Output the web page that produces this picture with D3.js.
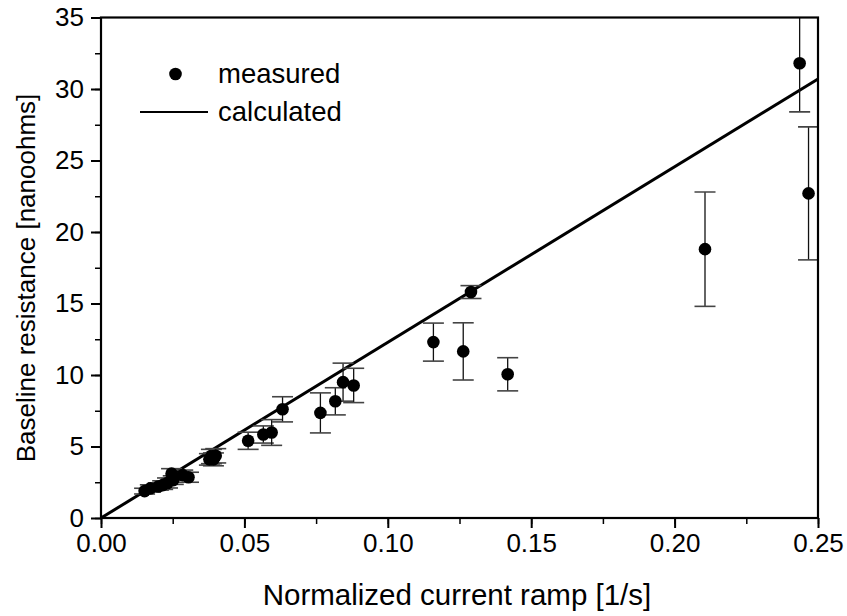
<!DOCTYPE html>
<html>
<head>
<meta charset="utf-8">
<script src="https://cdn.jsdelivr.net/npm/d3@7"></script>
<style>
  body { margin: 0; background: #fff; }
  text { font-family: "Liberation Sans", Arial, sans-serif; fill: #000; }
</style>
</head>
<body>
<script>
// measured points (x = normalized ramp, y = resistance, err = half error bar)
var rampX = [0.0152, 0.0172, 0.0200, 0.0215, 0.0232, 0.0246, 0.0252, 0.0285, 0.0305,
  0.0378, 0.0385, 0.0392, 0.0400, 0.0513, 0.0566, 0.0595, 0.0633, 0.0765, 0.0817,
  0.0844, 0.0881, 0.1159, 0.1263, 0.1290, 0.1418, 0.2106, 0.2436, 0.2467];
var resistY = [1.88, 2.07, 2.20, 2.30, 2.45, 3.10, 2.65, 3.00, 2.85,
  4.10, 4.30, 4.10, 4.35, 5.40, 5.84, 5.98, 7.60, 7.35, 8.16,
  9.50, 9.27, 12.30, 11.65, 15.80, 10.05, 18.80, 31.80, 22.70];
var resistErr = [0.20, 0.25, 0.25, 0.30, 0.35, 0.35, 0.30, 0.35, 0.35,
  0.40, 0.50, 0.45, 0.50, 0.60, 0.60, 0.90, 0.88, 1.40, 0.95,
  1.33, 1.20, 1.33, 2.00, 0.45, 1.16, 4.00, 3.40, 4.65];

// calculated curve
var calcX = [0, 0.25];
var calcY = [0, 30.7];

var xTicks = [0, 0.05, 0.10, 0.15, 0.20, 0.25];
var yTicks = [0, 5, 10, 15, 20, 25, 30, 35];

function main() {
    var width = 847, height = 616;
    var left = 101, right = 818, top = 17.5, bottom = 518;

    var svg = d3.select("body").append("svg")
        .attr("width", width)
        .attr("height", height);

    var x = d3.scaleLinear().domain([0, 0.25]).range([left, right]);
    var y = d3.scaleLinear().domain([0, 35]).range([bottom, top]);

    svg.append("clipPath").attr("id", "plotclip")
        .append("rect")
        .attr("x", left).attr("y", top)
        .attr("width", right - left).attr("height", bottom - top);

    // minor ticks
    var xMinor = d3.range(0, 0.25 + 1e-9, 0.025);
    var yMinor = d3.range(0, 35 + 1e-9, 2.5);

    var xAxis = svg.append("g")
        .attr("transform", "translate(0," + bottom + ")")
        .call(d3.axisBottom(x).tickValues(xMinor).tickSize(6).tickFormat(""));
    xAxis.select(".domain").remove();
    xAxis.selectAll("line").attr("stroke-width", 1.5);

    var xMajor = svg.append("g")
        .attr("transform", "translate(0," + bottom + ")")
        .call(d3.axisBottom(x).tickValues(xTicks).tickSize(10).tickPadding(6)
            .tickFormat(d3.format(".2f")));
    xMajor.select(".domain").remove();
    xMajor.selectAll("line").attr("stroke-width", 2);
    xMajor.selectAll("text").attr("font-size", 26).attr("font-family", "Liberation Sans, Arial, sans-serif");

    var yAxis = svg.append("g")
        .attr("transform", "translate(" + left + ",0)")
        .call(d3.axisLeft(y).tickValues(yMinor).tickSize(6).tickFormat(""));
    yAxis.select(".domain").remove();
    yAxis.selectAll("line").attr("stroke-width", 1.5);

    var yMajor = svg.append("g")
        .attr("transform", "translate(" + left + ",0)")
        .call(d3.axisLeft(y).tickValues(yTicks).tickSize(10).tickPadding(7)
            .tickFormat(d3.format("d")));
    yMajor.select(".domain").remove();
    yMajor.selectAll("line").attr("stroke-width", 2);
    yMajor.selectAll("text").attr("font-size", 26).attr("font-family", "Liberation Sans, Arial, sans-serif");

    var plot = svg.append("g").attr("clip-path", "url(#plotclip)");

    // calculated line
    var line = d3.line().x(function (d) { return x(d[0]); }).y(function (d) { return y(d[1]); });
    plot.append("path")
        .datum(d3.zip(calcX, calcY))
        .attr("d", line)
        .attr("fill", "none")
        .attr("stroke", "#000")
        .attr("stroke-width", 3);

    var pts = rampX.map(function (v, i) { return { x: v, y: resistY[i], e: resistErr[i] }; });

    // error bars
    var bars = plot.selectAll(".err").data(pts).enter().append("g").attr("class", "err");
    bars.append("line")
        .attr("x1", function (d) { return x(d.x); })
        .attr("x2", function (d) { return x(d.x); })
        .attr("y1", function (d) { return y(d.y + d.e); })
        .attr("y2", function (d) { return y(d.y - d.e); })
        .attr("stroke", "#111").attr("stroke-width", 1.3);
    [1, -1].forEach(function (s) {
        bars.append("line")
            .attr("x1", function (d) { return x(d.x) - 10.5; })
            .attr("x2", function (d) { return x(d.x) + 10.5; })
            .attr("y1", function (d) { return y(d.y + s * d.e); })
            .attr("y2", function (d) { return y(d.y + s * d.e); })
            .attr("stroke", "#444").attr("stroke-width", 1.6);
    });

    // points
    plot.selectAll(".pt").data(pts).enter().append("circle")
        .attr("class", "pt")
        .attr("cx", function (d) { return x(d.x); })
        .attr("cy", function (d) { return y(d.y); })
        .attr("r", 6.3)
        .attr("fill", "#000");

    // frame
    svg.append("rect")
        .attr("x", left).attr("y", top)
        .attr("width", right - left).attr("height", bottom - top)
        .attr("fill", "none").attr("stroke", "#000").attr("stroke-width", 2.2);

    // legend
    svg.append("circle").attr("cx", 175.5).attr("cy", 74).attr("r", 6.3).attr("fill", "#000");
    svg.append("text").attr("x", 218).attr("y", 83).attr("font-size", 27.5).text("measured");
    svg.append("line").attr("x1", 140).attr("x2", 208).attr("y1", 112).attr("y2", 112)
        .attr("stroke", "#000").attr("stroke-width", 2);
    svg.append("text").attr("x", 218).attr("y", 121).attr("font-size", 27.5).text("calculated");

    // axis titles
    svg.append("text")
        .attr("x", 457).attr("y", 605)
        .attr("text-anchor", "middle").attr("font-size", 29.5)
        .text("Normalized current ramp [1/s]");
    svg.append("text")
        .attr("transform", "translate(35," + 278 + ") rotate(-90)")
        .attr("text-anchor", "middle").attr("font-size", 26)
        .text("Baseline resistance [nanoohms]");
}

window.onload = main;
</script>
</body>
</html>
